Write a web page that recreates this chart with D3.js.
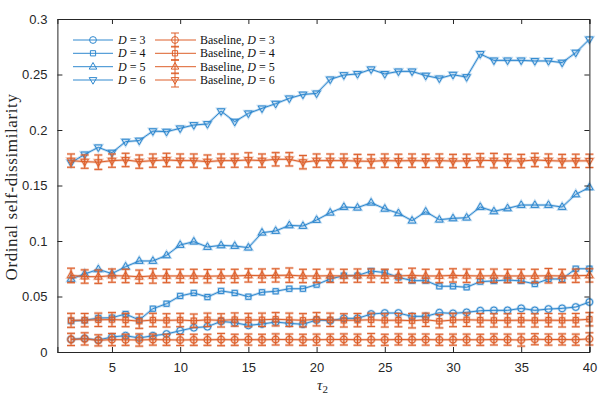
<!DOCTYPE html>
<html>
<head>
<meta charset="utf-8">
<script src="https://cdn.jsdelivr.net/npm/d3@7"></script>
<style>
body { margin: 0; background: #fff; }
svg { display: block; }
.tick text { font-family: "Liberation Sans", Arial, sans-serif; font-size: 13px; fill: #262626; }
</style>
</head>
<body>
<div id="chart"></div>
<script>
var taus = d3.range(2, 41);
var dims = [3, 4, 5, 6];

var ordD3 = [0.0114,0.0123,0.0108,0.0135,0.0147,0.0126,0.0147,0.0162,0.0192,0.0219,0.0228,0.0276,0.0264,0.0240,0.0252,0.0270,0.0258,0.0250,0.0288,0.0282,0.0303,0.0303,0.0342,0.0351,0.0351,0.0321,0.0321,0.0354,0.0348,0.0357,0.0372,0.0375,0.0375,0.0393,0.0375,0.0387,0.0393,0.0405,0.0450];
var ordD4 = [0.0279,0.0285,0.0306,0.0309,0.0342,0.0288,0.0390,0.0435,0.0505,0.0532,0.0495,0.0550,0.0532,0.0498,0.0538,0.0547,0.0570,0.0570,0.0607,0.0658,0.0688,0.0688,0.0730,0.0715,0.0673,0.0643,0.0643,0.0592,0.0592,0.0583,0.0634,0.0640,0.0649,0.0640,0.0613,0.0658,0.0658,0.0750,0.0750];
var ordD5 = [0.0658,0.0703,0.0745,0.0706,0.0769,0.0820,0.0820,0.0871,0.0964,0.0994,0.0946,0.0961,0.0955,0.0940,0.1075,0.1090,0.1141,0.1135,0.1189,0.1255,0.1306,0.1300,0.1345,0.1290,0.1250,0.1183,0.1264,0.1192,0.1204,0.1210,0.1306,0.1267,0.1294,0.1324,0.1324,0.1324,0.1306,0.1420,0.1483];
var ordD6 = [0.1706,0.1780,0.1844,0.1796,0.1895,0.1905,0.1990,0.1985,0.2015,0.2045,0.2054,0.2170,0.2075,0.2150,0.2195,0.2237,0.2285,0.2320,0.2330,0.2456,0.2495,0.2505,0.2547,0.2505,0.2528,0.2528,0.2490,0.2465,0.2498,0.2477,0.2685,0.2627,0.2627,0.2627,0.2622,0.2622,0.2607,0.2697,0.2817];

var baseD3 = [0.0113,0.0118,0.0105,0.0112,0.0110,0.0108,0.0112,0.0110,0.0108,0.0110,0.0110,0.0112,0.0110,0.0112,0.0110,0.0113,0.0112,0.0110,0.0111,0.0112,0.0113,0.0111,0.0111,0.0110,0.0113,0.0111,0.0112,0.0110,0.0111,0.0111,0.0110,0.0113,0.0111,0.0108,0.0115,0.0112,0.0113,0.0111,0.0118];
var baseD4 = [0.0285,0.0287,0.0290,0.0292,0.0288,0.0278,0.0288,0.0285,0.0288,0.0282,0.0290,0.0285,0.0292,0.0288,0.0290,0.0295,0.0290,0.0286,0.0295,0.0290,0.0285,0.0287,0.0290,0.0285,0.0287,0.0282,0.0290,0.0277,0.0288,0.0290,0.0287,0.0285,0.0285,0.0287,0.0285,0.0287,0.0285,0.0287,0.0295];
var baseD5 = [0.0690,0.0680,0.0678,0.0688,0.0685,0.0678,0.0685,0.0685,0.0685,0.0685,0.0683,0.0685,0.0685,0.0690,0.0688,0.0690,0.0692,0.0685,0.0685,0.0687,0.0685,0.0688,0.0688,0.0685,0.0685,0.0690,0.0685,0.0685,0.0690,0.0687,0.0685,0.0687,0.0685,0.0685,0.0685,0.0687,0.0685,0.0687,0.0690];
var baseD6 = [0.1724,0.1715,0.1710,0.1724,0.1730,0.1715,0.1724,0.1730,0.1724,0.1724,0.1715,0.1724,0.1724,0.1730,0.1724,0.1736,0.1736,0.1710,0.1724,0.1724,0.1724,0.1720,0.1718,0.1724,0.1722,0.1724,0.1722,0.1724,0.1720,0.1722,0.1727,0.1724,0.1722,0.1720,0.1730,0.1724,0.1720,0.1722,0.1722];
var errD3 = [0.0055,0.0055,0.0050,0.0055,0.0050,0.0055,0.0050,0.0050,0.0050,0.0050,0.0050,0.0055,0.0050,0.0050,0.0050,0.0050,0.0050,0.0050,0.0050,0.0050,0.0050,0.0050,0.0055,0.0050,0.0050,0.0050,0.0050,0.0050,0.0050,0.0050,0.0050,0.0050,0.0050,0.0055,0.0050,0.0050,0.0050,0.0050,0.0055];
var errD4 = [0.0063,0.0060,0.0060,0.0063,0.0060,0.0065,0.0060,0.0060,0.0060,0.0060,0.0060,0.0060,0.0060,0.0060,0.0060,0.0060,0.0060,0.0060,0.0060,0.0060,0.0060,0.0060,0.0060,0.0060,0.0060,0.0065,0.0060,0.0060,0.0060,0.0060,0.0060,0.0060,0.0060,0.0060,0.0060,0.0060,0.0060,0.0060,0.0060];
var errD5 = [0.0065,0.0060,0.0060,0.0060,0.0060,0.0060,0.0065,0.0060,0.0060,0.0060,0.0060,0.0060,0.0060,0.0060,0.0060,0.0060,0.0065,0.0060,0.0060,0.0060,0.0060,0.0060,0.0060,0.0060,0.0060,0.0065,0.0060,0.0060,0.0060,0.0060,0.0060,0.0060,0.0060,0.0060,0.0060,0.0065,0.0060,0.0060,0.0060];
var errD6 = [0.0060,0.0060,0.0065,0.0060,0.0060,0.0060,0.0060,0.0060,0.0060,0.0060,0.0060,0.0060,0.0060,0.0065,0.0060,0.0060,0.0060,0.0060,0.0060,0.0060,0.0060,0.0060,0.0060,0.0060,0.0060,0.0060,0.0060,0.0060,0.0060,0.0060,0.0060,0.0065,0.0060,0.0060,0.0060,0.0060,0.0060,0.0060,0.0060];

var xTicks = [5, 10, 15, 20, 25, 30, 35, 40];
var yTicks = [0, 0.05, 0.1, 0.15, 0.2, 0.25, 0.3];
var markers = ['circle', 'square', 'up', 'down'];

var blue = '#3089cf', orange = '#dd5f2a';
var width = 598, height = 395;
var svg = d3.select('#chart').append('svg').attr('width', width).attr('height', height);

var x = d3.scaleLinear().domain([1, 40]).range([57.4, 589.4]);
var y = d3.scaleLinear().domain([0, 0.3]).range([352, 19]);

function circ(cx, cy, r) {
    var p = d3.path(); p.moveTo(cx + r, cy); p.arc(cx, cy, r, 0, 2 * Math.PI); p.closePath(); return p.toString();
}
function markerPath(type, cx, cy) {
    if (type == 'circle') return circ(cx, cy, 3.4);
    if (type == 'square') return `M${cx-2.6},${cy-2.6}h5.2v5.2h-5.2Z`;
    if (type == 'up') return `M${cx},${cy-4.2}L${cx+3.8},${cy+2.4}L${cx-3.8},${cy+2.4}Z`;
    return `M${cx},${cy+4.2}L${cx+3.8},${cy-2.4}L${cx-3.8},${cy-2.4}Z`;
}

var line = d3.line().x((d, i) => x(taus[i])).y(d => y(d));

function drawSeries(vals, col, mk, errs) {
    var g = svg.append('g');
    // soft halo under the line like the rendered figure
    g.append('path').attr('d', line(vals)).attr('fill', 'none').attr('stroke', col).attr('stroke-opacity', 0.3).attr('stroke-width', 2.6);
    if (errs) {
        vals.forEach((v, i) => {
            var cx = x(taus[i]), y0 = y(v - errs[i]), y1 = y(v + errs[i]);
            var eb = `M${cx},${y0}V${y1}M${cx-4},${y0}h8M${cx-4},${y1}h8`;
            g.append('path').attr('d', eb).attr('fill', 'none').attr('stroke', col).attr('stroke-opacity', 0.35).attr('stroke-width', 2.6);
            g.append('path').attr('d', eb).attr('fill', 'none').attr('stroke', col).attr('stroke-width', 1);
        });
    }
    g.append('path').attr('d', line(vals)).attr('fill', 'none').attr('stroke', col).attr('stroke-width', 1);
    vals.forEach((v, i) => {
        var p = markerPath(mk, x(taus[i]), y(v));
        g.append('path').attr('d', p).attr('fill', 'none').attr('stroke', col).attr('stroke-opacity', 0.3).attr('stroke-width', 2.4);
        g.append('path').attr('d', p).attr('fill', 'none').attr('stroke', col).attr('stroke-width', 1);
    });
}

var ords = [ordD3, ordD4, ordD5, ordD6];
var bases = [baseD3, baseD4, baseD5, baseD6];
var errs = [errD3, errD4, errD5, errD6];
ords.forEach((s, k) => drawSeries(s, blue, markers[k]));
bases.forEach((s, k) => drawSeries(s, orange, markers[k], errs[k]));

// axes, box on with inward ticks
var axCol = '#262626';
var xAxis = svg.append('g').attr('transform', 'translate(0,352)')
    .call(d3.axisBottom(x).tickValues(xTicks).tickSize(-5).tickPadding(11).tickFormat(d3.format('d')));
var xTop = svg.append('g').attr('transform', 'translate(0,19)')
    .call(d3.axisTop(x).tickValues(xTicks).tickSize(-5).tickFormat(''));
var yAxis = svg.append('g').attr('transform', 'translate(57.4,0)')
    .call(d3.axisLeft(y).tickValues(yTicks).tickSize(-5).tickPadding(10).tickFormat(d => d == 0 ? '0' : d3.format('~g')(d)));
var yRight = svg.append('g').attr('transform', 'translate(589.4,0)')
    .call(d3.axisRight(y).tickValues(yTicks).tickSize(-5).tickFormat(''));
[xAxis, xTop, yAxis, yRight].forEach(a => {
    a.select('.domain').attr('stroke', axCol).attr('stroke-width', 1);
    a.selectAll('.tick line').attr('stroke', axCol);
});

// axis titles
svg.append('text').attr('transform', 'translate(17,187)rotate(-90)').attr('text-anchor', 'middle')
    .style('font-family', '"Liberation Serif", serif').style('font-size', '17px').style('letter-spacing', '0.6px')
    .attr('fill', '#262626').text('Ordinal self-dissimilarity');
var xl = svg.append('text').attr('x', 317).attr('y', 390).style('font-family', '"Liberation Serif", serif')
    .style('font-size', '15px').attr('fill', '#262626');
xl.append('tspan').style('font-style', 'italic').text('τ');
xl.append('tspan').attr('dy', 3).style('font-size', '11px').text('2');

// legend (box off)
var rows = [40, 53.3, 66.7, 80];
var legend = svg.append('g').style('font-family', '"Liberation Serif", serif').style('font-size', '12px');
dims.forEach((d, k) => {
    [[73, 113, 93, blue, '', 118], [155, 196, 175, orange, 'Baseline, ', 200]].forEach(c => {
        var yy = rows[k];
        legend.append('line').attr('x1', c[0]).attr('x2', c[1]).attr('y1', yy).attr('y2', yy)
            .attr('stroke', c[3]).attr('stroke-width', 1);
        if (c[4]) {
            legend.append('path').attr('d', `M${c[2]},${yy-7}V${yy+7}M${c[2]-4},${yy-7}h8M${c[2]-4},${yy+7}h8`)
                .attr('fill', 'none').attr('stroke', c[3]);
        }
        legend.append('path').attr('d', markerPath(markers[k], c[2], yy)).attr('fill', 'none').attr('stroke', c[3]);
        var t = legend.append('text').attr('x', c[5]).attr('y', yy + 4).attr('fill', '#111');
        if (c[4]) t.append('tspan').text(c[4]);
        t.append('tspan').style('font-style', 'italic').text('D');
        t.append('tspan').text(' = ' + d);
    });
});
</script>
</body>
</html>
